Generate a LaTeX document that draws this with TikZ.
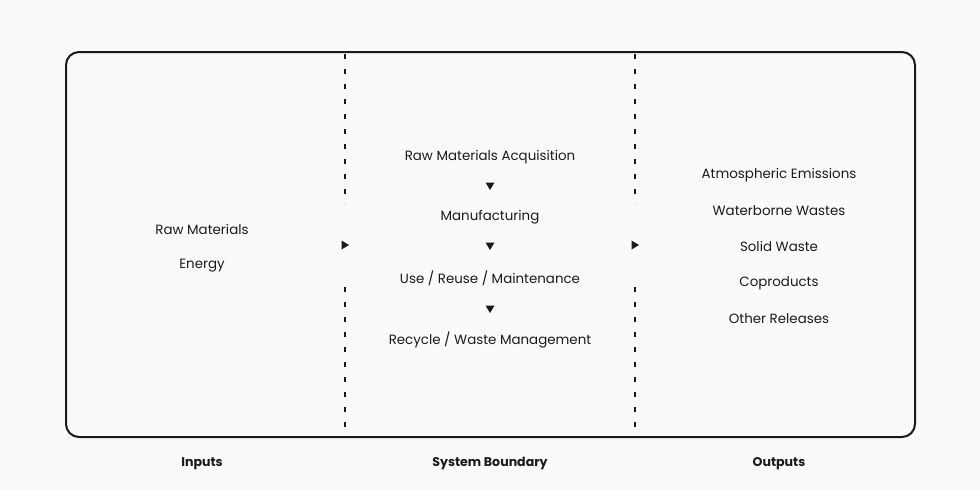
\documentclass[tikz,border=0pt]{standalone}
\usepackage{fontspec}
\setmainfont{Poppins}
\usepackage{xcolor}
\usetikzlibrary{calc}
\definecolor{paper}{HTML}{FAFAFA}
\definecolor{ink}{HTML}{1A1A1A}
\tikzset{
    label text/.style={font=\fontsize{13.4}{15}\selectfont,text=ink,inner sep=1pt},
    head text/.style={font=\fontsize{12.6}{14}\selectfont\bfseries,text=ink,inner sep=1pt},
    boundary/.style={ink,line width=1.1pt,dash pattern=on 5pt off 10pt},
}
\newcommand{\downtri}[1]{\fill[ink] ($(#1)+(-4.5,-3.5)$) -- ($(#1)+(4.5,-3.5)$) -- ($(#1)+(0,4)$) -- cycle;}
\newcommand{\righttri}[1]{\fill[ink] ($(#1)+(-3.5,-4.5)$) -- ($(#1)+(-3.5,4.5)$) -- ($(#1)+(4,0)$) -- cycle;}

\begin{document}
\begin{tikzpicture}[x=1pt,y=-1pt]
        \fill[paper] (0,0) rectangle (980,490);
        \useasboundingbox (0,0) rectangle (980,490);
        \draw[ink,line width=2pt,rounded corners=13pt] (66,52) rectangle (915,437);
        % system boundary
        \draw[boundary] (345,54) -- (345,204);
        \draw[boundary] (345,287) -- (345,437);
        \draw[boundary] (635,54) -- (635,204);
        \draw[boundary] (635,287) -- (635,437);
        % inputs
        \node[label text] (rawmat) at (202,229) {Raw Materials};
        \node[label text] (energy) at (202,266) {Energy};
        % life cycle stages
        \node[label text] (acq) at (490,157) {Raw Materials Acquisition};
        \node[label text] (manuf) at (490,217) {Manufacturing};
        \node[label text] (use) at (490,278) {Use / Reuse / Maintenance};
        \node[label text] (recyc) at (490,340) {Recycle / Waste Management};
        \coordinate (a1) at (490,186);
        \coordinate (a2) at (490,246);
        \coordinate (a3) at (490,309);
        \foreach \a in {a1,a2,a3}{
            \downtri{\a}
        }
        % outputs
        \node[label text] (atmo) at (779,175) {Atmospheric Emissions};
        \node[label text] (water) at (779,211) {Waterborne Wastes};
        \node[label text] (solid) at (779,246) {Solid Waste};
        \node[label text] (copro) at (779,283) {Coproducts};
        \node[label text] (other) at (779,319) {Other Releases};
        \coordinate (inarrow) at (345,245);
        \coordinate (outarrow) at (635,245);
        \righttri{inarrow}
        \righttri{outarrow}
        % headings
        \node[head text] (inputs) at (202,464) {Inputs};
        \node[head text] (system) at (490,464) {System Boundary};
        \node[head text] (outputs) at (779,464) {Outputs};
    \end{tikzpicture}
\end{document}
